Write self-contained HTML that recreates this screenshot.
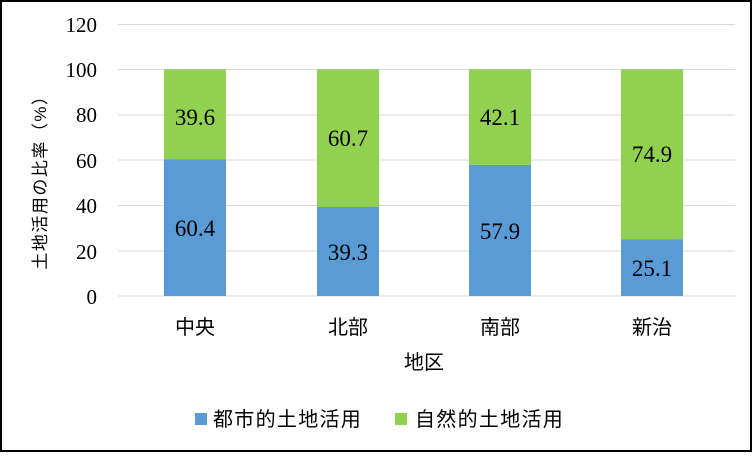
<!DOCTYPE html><html><head><meta charset="utf-8"><style>body{margin:0}</style></head><body>
<svg width="752" height="452" xmlns="http://www.w3.org/2000/svg">
<rect x="1" y="1" width="750" height="450" fill="#fff" stroke="#000" stroke-width="2"/>
<g stroke="#d9d9d9" stroke-width="1">
<line x1="118" x2="735" y1="24.5" y2="24.5"/><line x1="118" x2="735" y1="69.5" y2="69.5"/><line x1="118" x2="735" y1="115" y2="115"/><line x1="118" x2="735" y1="160" y2="160"/><line x1="118" x2="735" y1="205.5" y2="205.5"/><line x1="118" x2="735" y1="251" y2="251"/><line x1="118" x2="735" y1="296" y2="296"/></g>
<g font-family="Liberation Serif, serif" font-size="21" text-anchor="end" fill="#000">
<text x="97" y="32">120</text><text x="97" y="77">100</text><text x="97" y="122">80</text><text x="97" y="168">60</text><text x="97" y="213">40</text><text x="97" y="259">20</text><text x="97" y="304">0</text></g>
<g>
<rect x="164" y="159.1" width="62" height="136.9" fill="#5b9bd5"/><rect x="164" y="69.3" width="62" height="89.8" fill="#92d050"/>
<rect x="317" y="207" width="62" height="89" fill="#5b9bd5"/><rect x="317" y="69.3" width="62" height="137.7" fill="#92d050"/>
<rect x="469" y="164.8" width="62" height="131.2" fill="#5b9bd5"/><rect x="469" y="69.3" width="62" height="95.5" fill="#92d050"/>
<rect x="621" y="239.1" width="62" height="56.9" fill="#5b9bd5"/><rect x="621" y="69.3" width="62" height="169.8" fill="#92d050"/>
</g>
<g font-family="Liberation Serif, serif" font-size="23" text-anchor="middle" fill="#000">
<text x="195" y="125">39.6</text><text x="195" y="236">60.4</text>
<text x="348" y="146">60.7</text><text x="348" y="260">39.3</text>
<text x="500" y="125">42.1</text><text x="500" y="239">57.9</text>
<text x="652" y="162">74.9</text><text x="652" y="276">25.1</text></g>
<g font-family="Liberation Sans, Noto Sans CJK JP, sans-serif" font-size="20" text-anchor="middle" fill="#000">
<text x="195" y="334">中央</text><text x="348" y="334">北部</text><text x="500" y="334">南部</text><text x="652" y="334">新治</text>
<text x="424" y="369">地区</text>
<text transform="translate(46,178) rotate(-90)" font-size="17" letter-spacing="1.5">土地活用の比率（%）</text>
</g>
<rect x="195" y="413" width="12" height="12" fill="#5b9bd5"/>
<rect x="395" y="413" width="12" height="12" fill="#92d050"/>
<g font-family="Liberation Sans, Noto Sans CJK JP, sans-serif" font-size="20" fill="#000" letter-spacing="1.3">
<text x="213" y="426">都市的土地活用</text><text x="415" y="426">自然的土地活用</text></g>
</svg></body></html>
